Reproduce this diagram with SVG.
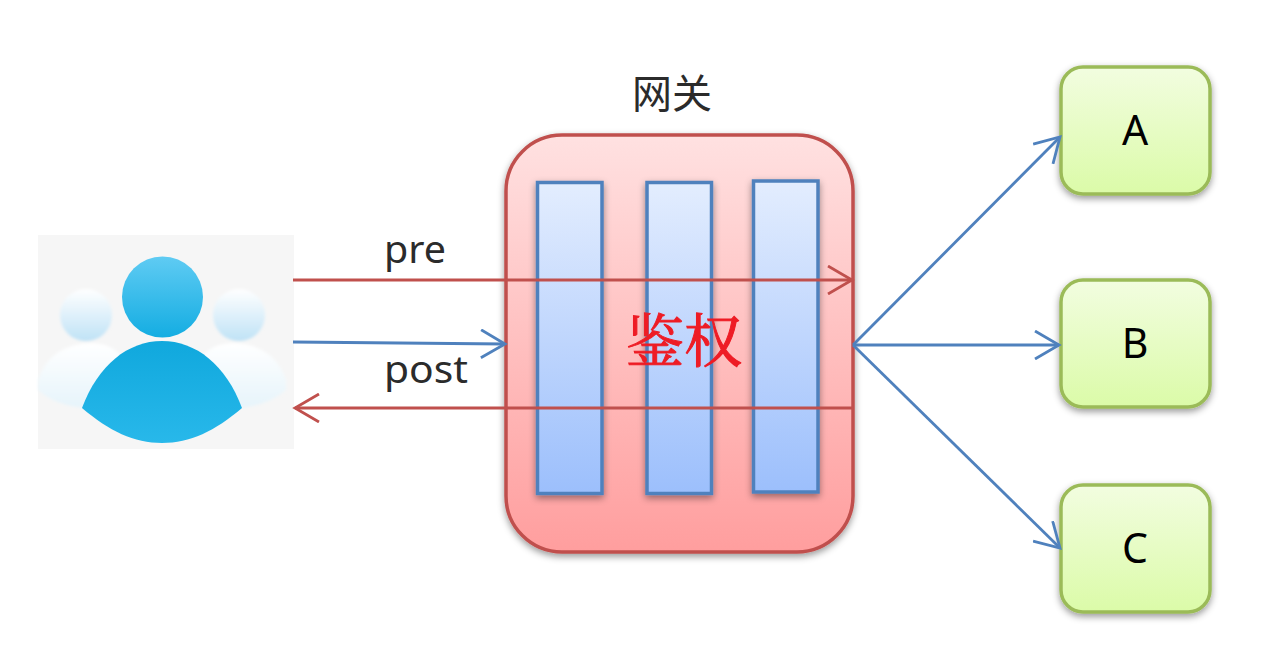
<svg xmlns="http://www.w3.org/2000/svg" width="1276" height="658" viewBox="0 0 1276 658">
<defs>
<linearGradient id="gw" x1="0" y1="0" x2="0" y2="1"><stop offset="0" stop-color="#ffe1e1"/><stop offset="1" stop-color="#ff9e9e"/></linearGradient>
<linearGradient id="gb" x1="0" y1="0" x2="0" y2="1"><stop offset="0" stop-color="#e3edfe"/><stop offset="1" stop-color="#9cbffc"/></linearGradient>
<linearGradient id="gg" x1="0" y1="0" x2="0" y2="1"><stop offset="0" stop-color="#f2fde0"/><stop offset="1" stop-color="#dbfba8"/></linearGradient>
<linearGradient id="gh" x1="0" y1="0" x2="0" y2="1"><stop offset="0" stop-color="#5fcbf3"/><stop offset="1" stop-color="#14ade2"/></linearGradient>
<linearGradient id="gs" x1="0" y1="0" x2="0" y2="1"><stop offset="0" stop-color="#ffffff"/><stop offset="1" stop-color="#bfe2f6"/></linearGradient>
<linearGradient id="gt" x1="0" y1="0" x2="0" y2="1"><stop offset="0" stop-color="#ffffff"/><stop offset="1" stop-color="#e6f4fb"/></linearGradient>
<linearGradient id="gbody" x1="0" y1="0" x2="0" y2="1"><stop offset="0" stop-color="#10a8dd"/><stop offset="1" stop-color="#28b8ea"/></linearGradient>
<filter id="sh" x="-15%" y="-15%" width="130%" height="130%"><feDropShadow dx="0" dy="3" stdDeviation="3.500" flood-color="#000" flood-opacity="0.4"/></filter>
<filter id="soft" x="-10%" y="-10%" width="120%" height="120%"><feGaussianBlur stdDeviation="1.500"/></filter>
<marker id="ar" markerUnits="userSpaceOnUse" markerWidth="30" markerHeight="30" refX="25" refY="15" orient="auto"><path d="M1 1 L25 15 L1 29" fill="none" stroke="#c0504d" stroke-width="2.800"/></marker>
<marker id="ab" markerUnits="userSpaceOnUse" markerWidth="30" markerHeight="30" refX="25" refY="15" orient="auto"><path d="M1 1 L25 15 L1 29" fill="none" stroke="#4f81bd" stroke-width="2.800"/></marker>
</defs>
<style>
.t{font-family:"Noto Sans","Noto Sans CJK SC",sans-serif;fill:#2b2b2b}
.n{font-family:"Noto Sans","Noto Sans CJK SC",sans-serif;fill:#000;font-size:41px;text-anchor:middle}
.box{fill:url(#gg);stroke:#9bbb59;stroke-width:3.500;filter:url(#sh)}
.col{fill:url(#gb);stroke:#4f81bd;stroke-width:3.500;filter:url(#sh)}
.cr{fill:none;stroke:#c0504d;stroke-width:2.800}
.cb{fill:none;stroke:#4f81bd;stroke-width:2.800}
</style>
<rect width="1276" height="658" fill="#fff"/>
<g id="users">
<rect x="38" y="235" width="256" height="214" fill="#f6f6f6"/>
<g filter="url(#soft)">
<circle cx="86" cy="315" r="26" fill="url(#gs)"/>
<circle cx="239" cy="315" r="26" fill="url(#gs)"/>
<path d="M38 380 Q50 344 92 343 Q120 344 130 370 L84 408 Q55 405 38 390Z" fill="url(#gt)"/>
<path d="M286 380 Q274 344 232 343 Q204 344 194 370 L240 408 Q269 405 286 390Z" fill="url(#gt)"/>
</g>
<circle cx="162.500" cy="297" r="40.500" fill="url(#gh)"/>
<path d="M82 408 C98 365 128 341 162 341 C196 341 226 365 242 408 C215 431 190 443 162 443 C134 443 109 431 82 408Z" fill="url(#gbody)"/>
</g>
<g id="gateway">
<rect x="506" y="135" width="347" height="417" rx="56" ry="56" fill="url(#gw)" stroke="#c0504d" stroke-width="3.500" filter="url(#sh)"/>
<rect class="col" x="537.500" y="182.500" width="64.500" height="311"/>
<rect class="col" x="647" y="182.500" width="64.500" height="311"/>
<rect class="col" x="753.500" y="181" width="64.500" height="311"/>
<text class="t" x="672" y="108" font-size="40" text-anchor="middle">网关</text>
<text x="684" y="362" font-size="58" text-anchor="middle" fill="#ee1c25" stroke="#ee1c25" stroke-width="1" font-family="'Noto Serif CJK SC','Liberation Serif','Noto Sans CJK SC',serif">鉴权</text>
</g>
<g id="node-a"><rect class="box" x="1061" y="67" width="149" height="127" rx="22"/><text class="n" x="1135" y="145">A</text></g>
<g id="node-b"><rect class="box" x="1061" y="280" width="149" height="127" rx="22"/><text class="n" x="1135" y="358">B</text></g>
<g id="node-c"><rect class="box" x="1061" y="485" width="149" height="127" rx="22"/><text class="n" x="1135" y="563">C</text></g>
<g id="connectors">
<path class="cr" d="M293 280H852" marker-end="url(#ar)"/>
<path class="cb" d="M293 342L505 344" marker-end="url(#ab)"/>
<path class="cr" d="M852 408H295" marker-end="url(#ar)"/>
<path class="cb" d="M853 345L1060 137" marker-end="url(#ab)"/>
<path class="cb" d="M853 345H1059" marker-end="url(#ab)"/>
<path class="cb" d="M853 345L1060 548" marker-end="url(#ab)"/>
</g>
<text class="t" x="384" y="263" font-size="39" textLength="62" lengthAdjust="spacingAndGlyphs">pre</text>
<text class="t" x="384" y="383" font-size="39" textLength="84" lengthAdjust="spacingAndGlyphs">post</text>
</svg>
